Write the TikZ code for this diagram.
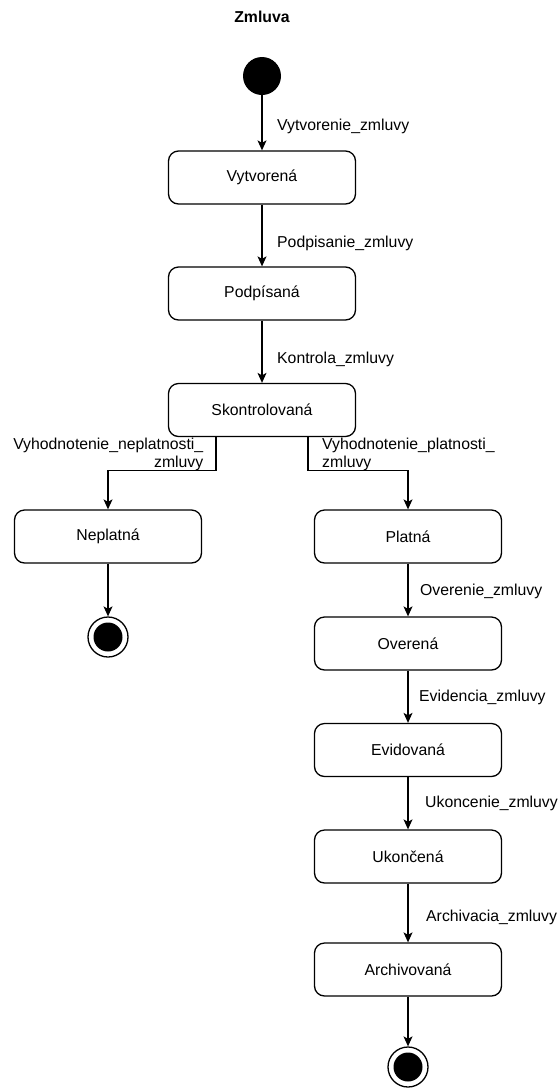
\documentclass[tikz,border=0pt]{standalone}
\usepackage{fontspec}
\setmainfont{Liberation Sans}
\usetikzlibrary{arrows.meta}
\begin{document}
\begin{tikzpicture}[x=1pt,y=-1pt,
  every node/.style={font=\fontsize{15.8}{18.4}\selectfont},
  state/.style={draw, line width=1.3pt, rounded corners=10pt, minimum width=187pt, minimum height=53pt, inner sep=0pt},
  trans/.style={line width=1.2pt, -{Stealth[length=10pt,width=9pt,inset=2.5pt]}},
  lbl/.style={anchor=west, inner sep=0pt},
  startstate/.style={circle, fill=black, minimum size=38pt, inner sep=0pt},
  endstate/.style={circle, draw, line width=1.3pt, minimum size=40pt, inner sep=0pt,
    path picture={\fill (path picture bounding box.center) circle (14.5pt);}}
]
\useasboundingbox (0,0) rectangle (558,1088);

% title
\node[font=\bfseries\fontsize{15.8}{18}\selectfont] (title) at (262,17) {Zmluva};

% states
\node[startstate] (init) at (262,76) {};
\node[state] (vyt) at (262,177.5) {Vytvorená};
\node[state] (pod) at (262,293.5) {Podpísaná};
\node[state] (sko) at (262,410) {Skontrolovaná};
\node[state] (nep) at (108,536.5) {Neplatná};
\node[state] (pla) at (408,536.5) {Platná};
\node[endstate] (endA) at (108,637) {};
\node[state] (ove) at (408,643.5) {Overená};
\node[state] (evi) at (408,750) {Evidovaná};
\node[state] (uko) at (408,856.5) {Ukončená};
\node[state] (arc) at (408,969.5) {Archivovaná};
\node[endstate] (endB) at (408,1067) {};

% transitions
\draw[trans] (init) -- (vyt);
\draw[trans] (vyt) -- (pod);
\draw[trans] (pod) -- (sko);
\draw[trans] ([xshift=-46pt]sko.south) -- ++(0,33.5) -| (nep.north);
\draw[trans] ([xshift=46pt]sko.south) -- ++(0,33.5) -| (pla.north);
\draw[trans] (nep) -- (endA);
\draw[trans] (pla) -- (ove);
\draw[trans] (ove) -- (evi);
\draw[trans] (evi) -- (uko);
\draw[trans] (uko) -- (arc);
\draw[trans] (arc) -- (endB);

% transition labels
\node[lbl] (l1) at (277,126) {Vytvorenie\_zmluvy};
\node[lbl] (l2) at (277,243) {Podpisanie\_zmluvy};
\node[lbl] (l3) at (277,359) {Kontrola\_zmluvy};
\node[anchor=east, align=right, inner sep=0pt] (l4) at (203.5,454.5) {Vyhodnotenie\_neplatnosti\_\\zmluvy};
\node[anchor=west, align=left, inner sep=0pt] (l5) at (322,454.5) {Vyhodnotenie\_platnosti\_\\zmluvy};
\node[lbl] (l6) at (420,591) {Overenie\_zmluvy};
\node[lbl] (l7) at (419,697) {Evidencia\_zmluvy};
\node[lbl] (l8) at (425,803) {Ukoncenie\_zmluvy};
\node[lbl] (l9) at (426,917) {Archivacia\_zmluvy};
\end{tikzpicture}
\end{document}
